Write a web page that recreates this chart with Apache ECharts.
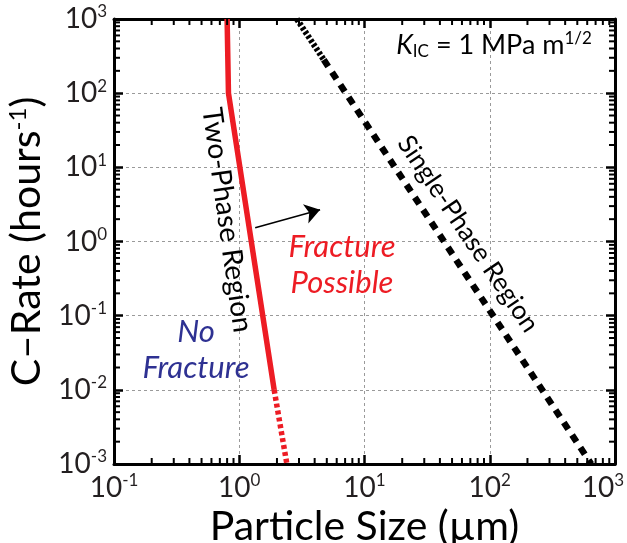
<!DOCTYPE html>
<html lang="en">
<head>
  <meta charset="UTF-8">
  <title>C-Rate vs Particle Size</title>
  <script src="https://cdn.jsdelivr.net/npm/echarts@6/dist/echarts.min.js"></script>
  <style>
    html, body { margin: 0; padding: 0; background: #fff; }
    #main { width: 627px; height: 543px; }
  </style>
</head>
<body>
  <div id="main"></div>
<script>
  // data (particle size um, C-rate 1/h)
  let twoPhaseSolid = [[0.80, 1000], [0.82, 100], [1.90, 0.01]]
  let twoPhaseDotted = [[1.90, 0.01], [2.40, 0.001]]
  let singlePhaseDotted = [[2.88, 1000], [4.73, 282]]
  let singlePhaseDashed = [[4.73, 282], [646, 0.001]]
  let arrowCoords = [[1.34, 1.53], [4.42, 2.68]]
  let xDecades = [0.1, 1, 10, 100, 1000]
  let yDecades = [0.001, 0.01, 0.1, 1, 10, 100, 1000]

  const FONT = 'Lato'
  const RED = '#ed1c24'
  const BLUE = '#2e3192'
  const xMin = 0.1, xMax = 1000, yMin = 0.001, yMax = 1000

  // minor ticks 2..9 in every decade
  let minorX = []
  xDecades.slice(0, -1).forEach(d => { for (let k = 2; k <= 9; k++) minorX.push(d * k) })
  let minorY = []
  yDecades.slice(0, -1).forEach(d => { for (let k = 2; k <= 9; k++) minorY.push(d * k) })

  function xLabel(v) {
    let e = Math.round(Math.log10(v))
    // last x label is pulled inside the figure
    if (v >= xMax * 0.999) return '{b|10}{sl|' + e + '}'
    return '{b|10}{s|' + e + '}'
  }
  function yLabel(v) {
    return '{b|10}{s|' + Math.round(Math.log10(v)) + '}'
  }
  let tickRich = {
    b: { fontFamily: FONT, fontSize: 28, color: '#231f20' },
    s: { fontFamily: FONT, fontSize: 17, color: '#231f20', padding: [0, 0, 14, 0] },
    sl: { fontFamily: FONT, fontSize: 17, color: '#231f20', padding: [0, 24, 14, 0] }
  }

  let oDiv = document.getElementById('main')
  let myCharts = echarts.init(oDiv, null, { renderer: 'canvas' })

  let frameLine = { show: true, onZero: false, lineStyle: { color: '#000', width: 3 } }
  let majorTick = { show: true, inside: true, length: 9, lineStyle: { color: '#000', width: 2.5 } }
  let gridDash = { show: true, lineStyle: { color: '#9a9a9a', width: 1, type: [3, 3] } }

  let option = {
    animation: false,
    backgroundColor: '#fff',
    grid: { left: 114, right: 12, top: 19, bottom: 79, containLabel: false, outerBoundsMode: 'none' },
    xAxis: [
      {
        type: 'log', logBase: 10, min: xMin, max: xMax,
        name: 'Particle Size (µm)', nameLocation: 'middle', nameGap: 37,
        nameTextStyle: { fontFamily: FONT, fontSize: 41, color: '#000' },
        axisLine: frameLine,
        axisTick: majorTick,
        axisLabel: { margin: 8, formatter: xLabel, rich: tickRich },
        splitLine: gridDash
      },
      {
        type: 'log', logBase: 10, min: xMin, max: xMax, position: 'top',
        axisLine: frameLine,
        axisTick: majorTick,
        axisLabel: { show: false },
        splitLine: { show: false }
      }
    ],
    yAxis: [
      {
        type: 'log', logBase: 10, min: yMin, max: yMax,
        name: 'C\u2013Rate (hours{sup|-1})', nameLocation: 'middle', nameGap: 66, nameRotate: 90,
        nameTextStyle: {
          fontFamily: FONT, fontSize: 41, color: '#000',
          rich: { sup: { fontFamily: FONT, fontSize: 24, color: '#000', padding: [0, 0, 18, 0] } }
        },
        axisLine: frameLine,
        axisTick: majorTick,
        axisLabel: { margin: 7, formatter: yLabel, rich: tickRich },
        splitLine: gridDash
      },
      {
        type: 'log', logBase: 10, min: yMin, max: yMax, position: 'right',
        axisLine: frameLine,
        axisTick: majorTick,
        axisLabel: { show: false },
        splitLine: { show: false }
      }
    ],
    series: [
      {
        type: 'line', data: twoPhaseSolid, symbol: 'none', z: 3,
        lineStyle: { color: RED, width: 5.5 }
      },
      {
        type: 'line', data: twoPhaseDotted, symbol: 'none', z: 3,
        lineStyle: { color: RED, width: 5.5, type: [4, 3] }
      },
      {
        type: 'line', data: singlePhaseDotted, symbol: 'none', z: 3,
        lineStyle: { color: '#000', width: 6, type: [3, 2] }
      },
      {
        type: 'line', data: singlePhaseDashed, symbol: 'none', z: 3,
        lineStyle: { color: '#000', width: 6.5, type: [8, 7] }
      },
      {
        type: 'lines', coordinateSystem: 'cartesian2d', z: 4,
        symbol: ['none', 'arrow'], symbolSize: [10, 15],
        lineStyle: { color: '#000', width: 1.6, opacity: 1, curveness: 0 },
        data: [{ coords: arrowCoords }]
      }
    ],
    graphic: [
      {
        type: 'text', x: 494, y: 45, z: 10,
        style: {
          text: '{i|K}{sub|IC}{n| = 1 MPa m}{sup|1/2}',
          align: 'center', verticalAlign: 'middle',
          rich: {
            i: { fontFamily: FONT, fontSize: 27, fontStyle: 'italic', fill: '#000' },
            sub: { fontFamily: FONT, fontSize: 17, fill: '#000', padding: [13, 0, 0, 0] },
            n: { fontFamily: FONT, fontSize: 27, fill: '#000' },
            sup: { fontFamily: FONT, fontSize: 17, fill: '#000', padding: [0, 0, 13, 0] }
          }
        }
      },
      {
        type: 'text', x: 227, y: 220, rotation: -82 * Math.PI / 180, z: 10,
        style: { text: 'Two-Phase Region', font: '28px ' + FONT, fill: '#000', align: 'center', verticalAlign: 'middle' }
      },
      {
        type: 'text', x: 468, y: 234, rotation: -56 * Math.PI / 180, z: 10,
        style: { text: 'Single-Phase Region', font: '26px ' + FONT, fill: '#000', align: 'center', verticalAlign: 'middle' }
      },
      {
        type: 'text', x: 342, y: 265, z: 10,
        style: { text: 'Fracture\nPossible', font: 'italic 31px ' + FONT, lineHeight: 36, fill: RED, align: 'center', verticalAlign: 'middle' }
      },
      {
        type: 'text', x: 196, y: 350, z: 10,
        style: { text: 'No\nFracture', font: 'italic 31px ' + FONT, lineHeight: 36, fill: BLUE, align: 'center', verticalAlign: 'middle' }
      }
    ]
  }
  myCharts.setOption(option)

  // minor ticks on all four frame sides, placed through the chart's own log scales
  let ticks = []
  function tick(x1, y1, x2, y2) {
    ticks.push({ type: 'line', z: 20, shape: { x1: x1, y1: y1, x2: x2, y2: y2 }, style: { stroke: '#000', lineWidth: 2 } })
  }
  minorX.forEach(v => {
    let b = myCharts.convertToPixel({ gridIndex: 0 }, [v, yMin])
    let t = myCharts.convertToPixel({ gridIndex: 0 }, [v, yMax])
    tick(b[0], b[1], b[0], b[1] - 6)
    tick(t[0], t[1], t[0], t[1] + 6)
  })
  minorY.forEach(v => {
    let l = myCharts.convertToPixel({ gridIndex: 0 }, [xMin, v])
    let r = myCharts.convertToPixel({ gridIndex: 0 }, [xMax, v])
    tick(l[0], l[1], l[0] + 6, l[1])
    tick(r[0], r[1], r[0] - 6, r[1])
  })
  myCharts.setOption({ graphic: option.graphic.concat(ticks) })
</script>
</body>
</html>
